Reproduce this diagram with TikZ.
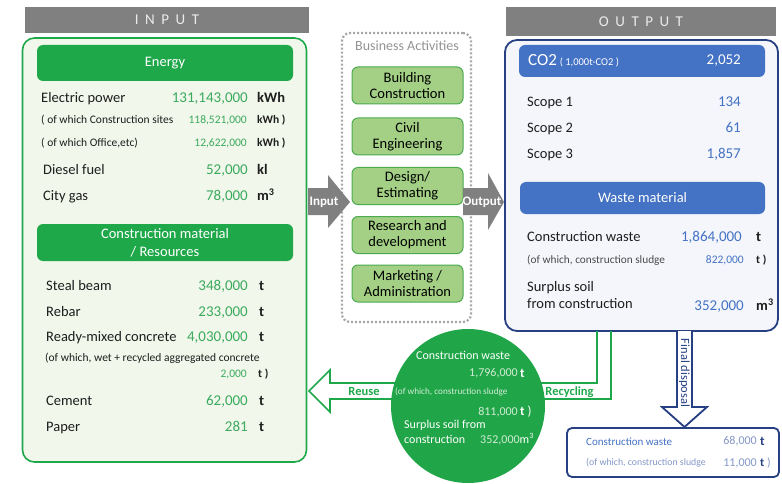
\documentclass[tikz,border=0pt]{standalone}
\usepackage{fontspec}
\setmainfont{Carlito}
\definecolor{bargray}{RGB}{128,128,128}
\definecolor{leaf}{RGB}{30,168,74}
\definecolor{leafnum}{RGB}{58,170,94}
\definecolor{leafpale}{RGB}{241,247,234}
\definecolor{actfill}{RGB}{163,208,132}
\definecolor{actline}{RGB}{76,170,80}
\definecolor{blob}{RGB}{32,166,72}
\definecolor{blobtext}{RGB}{210,236,212}
\definecolor{co2}{RGB}{68,114,196}
\definecolor{navy}{RGB}{38,64,130}
\definecolor{bluepale}{RGB}{244,246,251}
\definecolor{greyblue}{RGB}{132,151,200}
\definecolor{ink}{RGB}{30,30,30}
\newcommand{\mcube}{m\textsuperscript{3}}
\begin{document}
\begin{tikzpicture}[x=1pt,y=-1pt,
  bar/.style={fill=bargray,text=white!92!black,font=\fontsize{15}{16}\selectfont},
  greenhead/.style={fill=leaf,text=white,rounded corners=6,align=center,font=\fontsize{14.5}{18}\selectfont},
  bluehead/.style={fill=co2,text=white,rounded corners=6,font=\fontsize{14.5}{16}\selectfont},
  act/.style={draw=actline,fill=actfill,line width=1,rounded corners=6,minimum width=111,minimum height=37,
    align=center,inner sep=1,font=\fontsize{14.5}{16}\selectfont},
  big/.style={text height=9pt,text depth=2pt,inner sep=0,font=\fontsize{14.5}{16}\selectfont},
  small/.style={text height=7pt,text depth=1.6pt,inner sep=0,font=\fontsize{11.5}{13}\selectfont},
  item/.style={big,anchor=west,text=ink},
  sitem/.style={small,anchor=west,text=ink},
  num/.style={big,anchor=east,text=leafnum,font=\fontsize{15}{16}\selectfont},
  snum/.style={small,anchor=east,text=leafnum},
  unit/.style={big,anchor=west,text=ink,font=\fontsize{14.5}{16}\selectfont\bfseries},
  sunit/.style={small,anchor=west,text=ink,font=\fontsize{11.5}{13}\selectfont\bfseries},
  bnum/.style={num,text=co2},
]
\clip (0,0) rectangle (782,484);

% ---- input side
\node[bar,minimum width=284,minimum height=26] (inbar) at (167,20)
  {I\kern6.5pt N\kern6.5pt P\kern6.5pt U\kern6.5pt T};
\node[draw=leaf,line width=1.6,fill=leafpale,rounded corners=12,minimum width=284,minimum height=424] (inbox) at (164.5,250) {};
\node[greenhead,minimum width=256,minimum height=36] (energy) at (165,63) {Energy};

\node[item] (elec) at (41,99) {Electric power};
\node[num] (elecv) at (248,99) {131,143,000};
\node[unit] (elecu) at (257,99) {kWh};
\node[sitem] (site) at (41,121) {( of which Construction sites};
\node[snum] (sitev) at (247,121) {118,521,000};
\node[sunit] (siteu) at (257,121) {kWh )};
\node[sitem] (office) at (41,144) {( of which Office,etc)};
\node[snum] (officev) at (247,144) {12,622,000};
\node[sunit] (officeu) at (257,144) {kWh )};
\node[item] (diesel) at (43,171) {Diesel fuel};
\node[num] (dieselv) at (248,171) {52,000};
\node[unit] (dieselu) at (257,171) {kl};
\node[item] (gas) at (43,197) {City gas};
\node[num] (gasv) at (248,197) {78,000};
\node[unit] (gasu) at (257,197) {\mcube};

\node[greenhead,minimum width=256,minimum height=37] (material) at (165,242.5) {Construction material\\/ Resources};

\node[item] (steel) at (46,287) {Steal beam};
\node[num] (steelv) at (248,287) {348,000};
\node[unit] (steelu) at (259,287) {t};
\node[item] (rebar) at (46,313) {Rebar};
\node[num] (rebarv) at (248,313) {233,000};
\node[unit] (rebaru) at (259,313) {t};
\node[item] (rmc) at (46,338) {Ready-mixed concrete};
\node[num] (rmcv) at (248,338) {4,030,000};
\node[unit] (rmcu) at (259,338) {t};
\node[sitem] (wet) at (45,359) {(of which, wet + recycled aggregated concrete};
\node[snum] (wetv) at (247,375) {2,000};
\node[sunit] (wetu) at (258,375) {t )};
\node[item] (cement) at (46,402) {Cement};
\node[num] (cementv) at (248,402) {62,000};
\node[unit] (cementu) at (259,402) {t};
\node[item] (paper) at (46,428) {Paper};
\node[num] (paperv) at (248,428) {281};
\node[unit] (paperu) at (259,428) {t};

% ---- business activities
\node[draw=gray!70,line width=2.2,dash pattern=on 2pt off 2pt,rounded corners=8,minimum width=129,minimum height=289] (biz) at (406.5,177.5) {};
\node[text=gray!85,font=\fontsize{14}{16}\selectfont] (biztitle) at (407,46) {Business Activities};
\node[act] (build) at (407.5,85.5) {Building\\Construction};
\node[act] (civil) at (407.5,136.5) {Civil\\Engineering};
\node[act] (design) at (407.5,186) {Design/\\Estimating};
\node[act] (rnd) at (407.5,235) {Research and\\development};
\node[act] (admin) at (407.5,283.5) {Marketing /\\Administration};

\fill[bargray] (308,188) -- (328,188) -- (328,175) -- (350,202) -- (328,228) -- (328,215) -- (308,215) -- cycle;
\node[text=white,font=\fontsize{13}{14}\selectfont\bfseries] (inarrow) at (324,202) {Input};
\fill[bargray] (463,188) -- (488,188) -- (488,173) -- (504,202) -- (488,230) -- (488,215) -- (463,215) -- cycle;
\node[text=white,font=\fontsize{13}{14}\selectfont\bfseries] (outarrow) at (482,202) {Output};

% ---- output side
\node[bar,minimum width=270,minimum height=29] (outbar) at (641,21.5)
  {O\kern6.5pt U\kern6.5pt T\kern6.5pt P\kern6.5pt U\kern6.5pt T};
\node[draw=navy,line width=1.8,fill=bluepale,rounded corners=12,minimum width=273,minimum height=291] (outbox) at (641.5,185.5) {};
\node[bluehead,minimum width=246,minimum height=32] (co2head) at (642,61) {};
\node[anchor=west,text=white,inner sep=0] (co2lbl) at (528,61)
  {\fontsize{17}{18}\selectfont CO2\,\fontsize{10.5}{12}\selectfont( 1,000t-CO2 )};
\node[num,text=white] (co2v) at (741,61) {2,052};

\node[item] (s1) at (527,103) {Scope 1};
\node[bnum] (s1v) at (741,103) {134};
\node[item] (s2) at (527,129) {Scope 2};
\node[bnum] (s2v) at (741,129) {61};
\node[item] (s3) at (527,155) {Scope 3};
\node[bnum] (s3v) at (741,155) {1,857};

\node[bluehead,minimum width=245,minimum height=32] (waste) at (642.5,198) {Waste material};
\node[item] (cw) at (527,238) {Construction waste};
\node[bnum] (cwv) at (742,238) {1,864,000};
\node[unit] (cwu) at (756,238) {t};
\node[sitem,text=ink!80,font=\fontsize{11.3}{13}\selectfont] (sludge) at (527,261) {(of which, construction sludge};
\node[snum,text=co2] (sludgev) at (744,261) {822,000};
\node[sunit] (sludgeu) at (756,261) {t )};
\node[item,align=left,text height=,text depth=,font=\fontsize{14.5}{17}\selectfont] (soil) at (527,295.5) {Surplus soil\\from construction};
\node[bnum] (soilv) at (744,307) {352,000};
\node[unit] (soilu) at (756,307) {\mcube};

% ---- recycling loop
\draw[leaf,line width=1.6] (597,331) |- (520,383);
\draw[leaf,line width=1.6] (611,331) |- (520,399);
\node[text=leaf,font=\fontsize{12.5}{14}\selectfont\bfseries] (recyc) at (569.5,392) {Recycling};
\draw[leaf,line width=1.6,fill=white] (410,383) -- (330,383) -- (330,370) -- (309,391) -- (330,412) -- (330,399) -- (410,399);
\node[text=leaf,font=\fontsize{12.5}{14}\selectfont\bfseries] (reuse) at (364,391) {Reuse};

\node[circle,fill=blob,minimum size=154,inner sep=0] (pool) at (468,406) {};
\node[anchor=west,text=white,inner sep=0,font=\fontsize{12}{13}\selectfont] (pcw) at (416,355) {Construction waste};
\node[anchor=east,text=blobtext,inner sep=0,font=\fontsize{12}{13}\selectfont] (pcwv) at (518,373) {1,796,000};
\node[anchor=west,text=white,inner sep=0,font=\fontsize{13}{14}\selectfont\bfseries] (pcwu) at (520,373) {t};
\node[anchor=west,text=blobtext,inner sep=0,font=\fontsize{9.2}{11}\selectfont] (psl) at (395,392) {(of which, construction sludge};
\node[anchor=east,text=blobtext,inner sep=0,font=\fontsize{12}{13}\selectfont] (pslv) at (518,412) {811,000};
\node[anchor=west,text=white,inner sep=0,font=\fontsize{13}{14}\selectfont] (pslu) at (520,412) {\textbf{t} )};
\node[anchor=west,text=white,inner sep=0,font=\fontsize{12}{13}\selectfont] (psoil) at (404,425) {Surplus soil from};
\node[anchor=west,text=white,inner sep=0,font=\fontsize{12}{13}\selectfont] (psoil2) at (404,439) {construction};
\node[anchor=west,text=blobtext,inner sep=0,font=\fontsize{12}{13}\selectfont] (psoilv) at (480,439) {352,000\textcolor{white}{\mcube}};

% ---- final disposal
\draw[navy,line width=1.8,fill=white] (677,331) -- (677,407) -- (662,407) -- (684.5,427) -- (707,407) -- (692,407) -- (692,331);
\node[rotate=-90,text=navy,font=\fontsize{12.5}{14}\selectfont] (fdlbl) at (684.5,373) {Final disposal};
\node[draw=navy,line width=1.8,fill=white,rounded corners=5,minimum width=212,minimum height=49] (final) at (673,452.5) {};
\node[anchor=west,text=co2,inner sep=0,font=\fontsize{11}{13}\selectfont] (fcw) at (586,442) {Construction waste};
\node[anchor=east,text=greyblue,inner sep=0,font=\fontsize{12}{13}\selectfont] (fcwv) at (757,441) {68,000};
\node[anchor=west,text=navy,inner sep=0,font=\fontsize{13}{14}\selectfont\bfseries] (fcwu) at (760,441) {t};
\node[anchor=west,text=greyblue,inner sep=0,font=\fontsize{9.8}{11}\selectfont] (fsl) at (586,463) {(of which, construction sludge};
\node[anchor=east,text=greyblue,inner sep=0,font=\fontsize{12}{13}\selectfont] (fslv) at (757,463) {11,000};
\node[anchor=west,text=greyblue,inner sep=0,font=\fontsize{12}{13}\selectfont] (fslu) at (760,463) {\textcolor{navy}{\textbf{t}} )};
\end{tikzpicture}
\end{document}
